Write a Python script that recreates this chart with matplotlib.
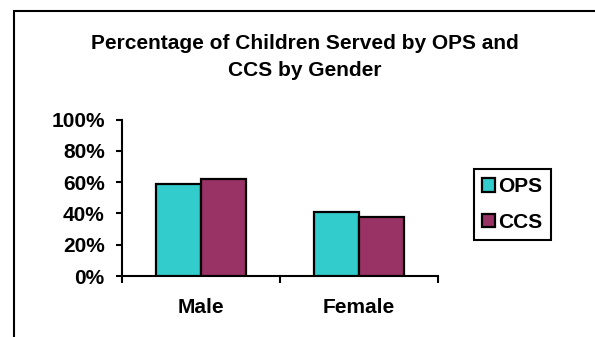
import matplotlib
matplotlib.use("Agg")
import matplotlib.pyplot as plt
from matplotlib.patches import Rectangle
from matplotlib.ticker import FixedLocator, PercentFormatter
import numpy as np

plt.rcParams['font.family'] = ['Liberation Sans', 'DejaVu Sans']
plt.rcParams['font.weight'] = 'bold'

title = "Percentage of Children Served by OPS and\nCCS by Gender"
categories = ["Male", "Female"]
series_names = ["OPS", "CCS"]
ops_values = [59, 41]
ccs_values = [62, 38]
y_ticks = [0, 20, 40, 60, 80, 100]
colors = ["#33CCCC", "#993366"]

W, H = 595, 337
fig = plt.figure(figsize=(W / 100, H / 100), dpi=100)
fig.patch.set_facecolor("white")

# outer chart frame (runs off the right and bottom edges)
fig.add_artist(Rectangle((14 / W, -0.1), 1.2, 1.1 - 11 / H,
                         transform=fig.transFigure, fill=False,
                         edgecolor="black", linewidth=1.5))

ax = fig.add_axes([122 / W, 1 - 276 / H, (438 - 122) / W, (276 - 119.5) / H])

x = np.arange(len(categories))
bw = 0.285
for i, (vals, name) in enumerate(zip([ops_values, ccs_values], series_names)):
    ax.bar(x + (i - 0.5) * bw, vals, width=bw, color=colors[i],
           edgecolor="black", linewidth=1.6, label=name, zorder=3)

ax.set_xlim(-0.5, len(categories) - 0.5)
ax.set_ylim(0, 100)
ax.set_yticks(y_ticks)
ax.yaxis.set_major_formatter(PercentFormatter(decimals=0))

# boundary ticks between categories, labels centered on categories
ax.xaxis.set_major_locator(FixedLocator(np.arange(len(categories) + 1) - 0.5))
ax.xaxis.set_major_formatter(plt.NullFormatter())
ax.xaxis.set_minor_locator(FixedLocator(x))
ax.set_xticklabels(categories, minor=True)
ax.tick_params(axis="x", which="minor", length=0, pad=16, labelsize=15)
ax.tick_params(axis="x", which="major", length=5, width=1.5, direction="out")
ax.tick_params(axis="y", length=4.5, width=1.5, direction="out", pad=8, labelsize=15)

for s in ["top", "right"]:
    ax.spines[s].set_visible(False)
for s in ["left", "bottom"]:
    ax.spines[s].set_linewidth(1.5)

fig.text(305 / W, 1 - 57 / H, title, ha="center", va="center",
         fontsize=15, fontweight="bold", linespacing=1.5)

leg = fig.legend(loc="upper left", bbox_to_anchor=(474 / W, 1 - 169 / H),
                 bbox_transform=fig.transFigure, fontsize=15,
                 handlelength=0.62, handleheight=0.62, handletextpad=0.15,
                 labelspacing=0.8, borderpad=0.4, borderaxespad=0,
                 fancybox=False, edgecolor="black", framealpha=1)
leg.get_frame().set_linewidth(1.5)

fig.savefig("out.png", dpi=100, facecolor="white")
